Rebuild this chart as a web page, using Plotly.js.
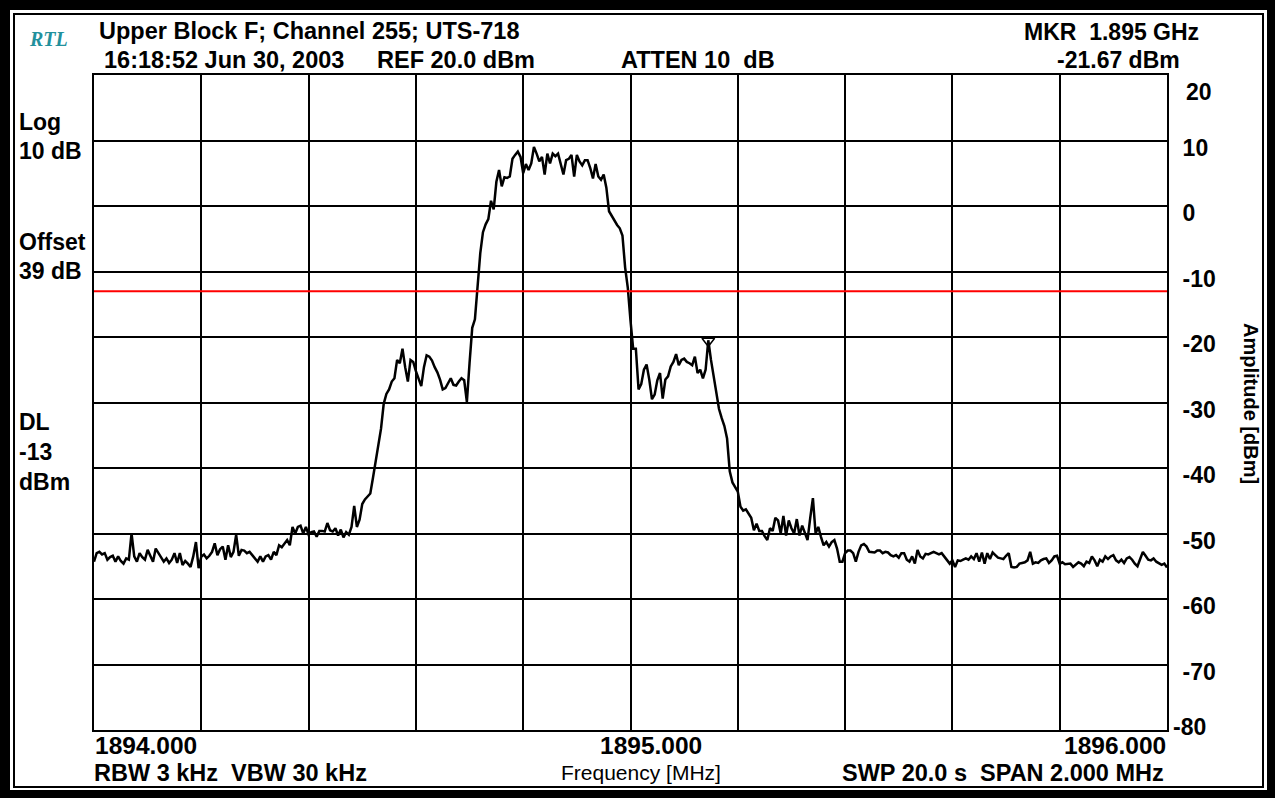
<!DOCTYPE html>
<html><head><meta charset="utf-8">
<script src="https://cdn.plot.ly/plotly-3.0.1.min.js"></script>
<style>html,body{margin:0;padding:0;background:#fff;} #chart{width:1275px;height:798px;}</style>
</head><body><div id="chart"></div>
<script>
// Sweep settings (instrument grid)
const FREQ_START = 1894.0;
const FREQ_STOP = 1896.0;
const SWEEP_POINTS = 401;

// Trace amplitude [dBm]
const amplitude = [
-54.3,-53.0,-52.8,-53.2,-53.0,-54.0,-53.6,-53.4,-54.3,-53.5,
-54.2,-54.6,-53.8,-54.0,-50.0,-53.5,-54.3,-53.0,-53.6,-54.0,
-52.5,-53.5,-54.3,-52.3,-53.0,-53.5,-54.3,-53.8,-54.5,-54.0,
-53.0,-54.5,-53.0,-54.8,-54.2,-54.6,-55.1,-53.5,-51.3,-55.3,
-53.5,-53.2,-53.8,-53.4,-52.8,-51.5,-53.3,-52.4,-52.0,-54.0,
-51.8,-53.6,-52.8,-50.2,-53.4,-52.5,-52.6,-53.0,-52.8,-53.3,
-53.8,-54.3,-53.5,-54.3,-53.5,-53.3,-54.0,-52.8,-53.3,-51.8,
-52.1,-51.5,-51.0,-51.8,-49.0,-50.0,-49.0,-48.8,-50.0,-49.0,
-50.2,-49.8,-49.7,-50.5,-49.6,-49.6,-49.7,-48.4,-49.5,-49.7,
-49.2,-50.3,-49.4,-50.6,-49.8,-50.2,-49.0,-45.8,-49.0,-47.9,
-45.5,-44.8,-44.4,-43.9,-41.5,-39.0,-36.8,-34.0,-30.2,-28.7,
-28.0,-26.8,-26.3,-23.5,-24.0,-21.8,-24.6,-26.8,-23.5,-23.8,
-25.2,-26.5,-27.5,-24.6,-22.8,-23.0,-23.6,-24.6,-25.4,-26.5,
-28.0,-27.8,-27.1,-26.3,-27.3,-27.4,-26.8,-26.3,-26.6,-29.9,
-24.0,-18.6,-17.3,-12.5,-7.2,-4.0,-2.8,-2.0,0.8,-0.5,
3.7,5.5,3.0,4.4,4.3,4.5,7.2,7.8,8.3,7.5,
5.0,6.4,5.5,6.5,9.0,8.0,6.8,7.5,4.8,8.0,
6.5,8.0,7.6,8.0,6.2,4.8,7.0,7.2,7.8,4.5,
7.8,6.8,6.2,7.0,7.0,5.8,4.2,6.4,4.5,4.0,
4.8,2.8,-0.8,-1.5,-2.3,-2.9,-3.4,-4.5,-9.4,-12.5,
-17.5,-21.8,-21.8,-28.0,-27.2,-25.0,-24.2,-26.5,-29.5,-28.8,
-26.6,-25.5,-29.4,-26.5,-26.0,-24.5,-23.8,-22.6,-24.3,-23.5,
-23.3,-23.8,-24.0,-24.3,-23.0,-25.5,-25.0,-26.3,-25.0,-20.5,
-23.5,-25.8,-28.5,-31.0,-32.4,-33.6,-35.5,-40.5,-42.2,-43.0,
-43.6,-45.9,-46.5,-46.3,-46.9,-47.6,-49.5,-48.5,-49.6,-49.6,
-50.4,-51.0,-49.2,-49.6,-47.6,-48.0,-50.0,-47.3,-50.3,-48.0,
-49.2,-50.0,-47.8,-50.3,-48.8,-50.0,-51.0,-47.6,-44.6,-50.0,
-49.0,-50.5,-51.8,-51.3,-52.0,-51.3,-51.0,-52.3,-54.3,-54.3,
-53.0,-52.6,-52.6,-53.0,-54.3,-52.8,-51.8,-51.6,-52.0,-52.8,
-52.8,-52.9,-52.6,-52.6,-53.0,-52.8,-52.9,-53.3,-53.5,-53.3,
-53.7,-53.0,-53.0,-54.0,-54.3,-53.5,-54.6,-52.5,-53.5,-53.8,
-53.1,-53.2,-53.0,-52.8,-53.0,-53.2,-53.0,-53.6,-54.1,-54.6,
-54.1,-55.1,-54.1,-54.2,-54.0,-53.8,-54.0,-53.5,-53.9,-53.0,
-54.3,-52.9,-54.6,-53.0,-53.9,-52.9,-53.3,-53.7,-53.8,-53.9,
-53.4,-53.0,-55.1,-55.2,-55.1,-54.6,-54.5,-54.4,-54.1,-52.8,
-54.6,-54.4,-54.5,-54.1,-53.9,-53.8,-54.5,-54.1,-53.5,-53.4,
-54.6,-54.4,-54.7,-54.7,-54.6,-55.1,-54.8,-54.4,-54.6,-55.0,
-54.3,-54.5,-53.5,-54.1,-55.0,-54.0,-54.3,-53.5,-53.9,-53.5,
-53.3,-54.1,-54.4,-54.0,-54.5,-53.8,-53.6,-54.0,-54.6,-55.0,
-53.9,-52.8,-53.4,-54.0,-54.1,-53.8,-54.3,-54.5,-54.8,-54.6,
-55.2
];

// Display line and marker
const DISPLAY_LINE = -13;
const MARKER_FREQ = 1895.145;
const MARKER_AMP = -20.6;

// Axis ranges / ticks
const X_RANGE = [1894, 1896];
const Y_RANGE = [-80, 20];
const yTickVals = [10, 0, -10, -20, -30, -40, -50, -60, -70];
const yTickText = ['10', '0', '-10', '-20', '-30', '-40', '-50', '-60', '-70'];
const xLabelVals = [1894, 1895, 1896];
const xLabelText = ['1894.000', '1895.000', '1896.000'];

// Header / footer texts
const headerTitle = 'Upper Block F; Channel 255; UTS-718';
const headerDate = '16:18:52 Jun 30, 2003';
const headerRef = 'REF 20.0 dBm';
const headerAtten = 'ATTEN 10\u00A0\u00A0dB';
const mkrFreqText = 'MKR\u00A0\u00A01.895 GHz';
const mkrAmpText = '-21.67 dBm';
const sideLabels = [['Log', 122], ['10 dB', 151], ['Offset', 242], ['39 dB', 271], ['DL', 422], ['-13', 452], ['dBm', 482]];
const footLeft = 'RBW 3 kHz\u00A0\u00A0VBW 30 kHz';
const footRight = 'SWP 20.0 s\u00A0\u00A0SPAN 2.000 MHz';
const xTitle = 'Frequency [MHz]';
const yTitle = 'Amplitude [dBm]';

const frequency = amplitude.map((_, i) => FREQ_START + i * (FREQ_STOP - FREQ_START) / (SWEEP_POINTS - 1));

const W = 1275, H = 798, ML = 94, MR = 108, MT = 75, MB = 68;
const PW = W - ML - MR, PH = H - MT - MB;
const px = v => (v - ML) / PW;
const py = v => (H - MB - v) / PH;

const FAM = 'Liberation Sans, Arial, Helvetica, sans-serif';
const bold = (size) => ({family: FAM, size: size, color: '#000', weight: 700});

const annotations = [];
function addText(text, x, y, anchor, font, extra) {
  annotations.push(Object.assign({
    text: text, xref: 'paper', yref: 'paper', x: px(x), y: py(y),
    xanchor: anchor, yanchor: 'middle', showarrow: false, font: font
  }, extra || {}));
}
addText('RTL', 27, 39, 'left', {family: 'Liberation Serif, Times New Roman, serif', size: 20, color: '#22909c', weight: 700, style: 'italic'});
addText(headerTitle, 97, 31, 'left', bold(23.5));
addText(headerDate, 102, 60, 'left', bold(23.5));
addText(headerRef, 375, 60, 'left', bold(23.5));
addText(headerAtten, 619, 60, 'left', bold(23.5));
addText(mkrFreqText, 1201, 32, 'right', bold(23));
addText(mkrAmpText, 1182, 60, 'right', bold(23));
sideLabels.forEach(s => addText(s[0], 17, s[1], 'left', bold(23)));
addText(footLeft, 92, 773, 'left', bold(23.5));
addText(footRight, 1166, 773, 'right', bold(23.5));
addText(xTitle, 641, 772, 'center', {family: FAM, size: 21, color: '#000'});
addText(yTitle, 1251, 403, 'center', bold(20), {textangle: 90});

// Frequency labels at the axis
[['left', -1], ['center', 20], ['right', 1]].forEach((a, k) => {
  annotations.push({text: xLabelText[k], xref: 'x', yref: 'paper', x: xLabelVals[k], y: py(745),
    xanchor: a[0], yanchor: 'middle', xshift: a[1], showarrow: false, font: bold(24.5)});
});
// Top / bottom amplitude labels
annotations.push({text: '20', xref: 'paper', yref: 'y', x: px(1184), y: Y_RANGE[1], yshift: -17,
  xanchor: 'left', yanchor: 'middle', showarrow: false, font: bold(23)});
annotations.push({text: '-80', xref: 'paper', yref: 'y', x: px(1171), y: Y_RANGE[0], yshift: 3,
  xanchor: 'left', yanchor: 'middle', showarrow: false, font: bold(23)});

const shapes = [
  // Display line
  {type: 'line', xref: 'paper', yref: 'y', x0: 0, x1: 1, y0: DISPLAY_LINE, y1: DISPLAY_LINE,
   line: {color: '#ff0000', width: 2}},
  // Outer frame bands
  {type: 'rect', xref: 'paper', yref: 'paper', x0: px(-5), x1: px(10), y0: py(-5), y1: py(H + 5), fillcolor: '#000', line: {width: 0}},
  {type: 'rect', xref: 'paper', yref: 'paper', x0: px(1267), x1: px(W + 5), y0: py(-5), y1: py(H + 5), fillcolor: '#000', line: {width: 0}},
  {type: 'rect', xref: 'paper', yref: 'paper', x0: px(-5), x1: px(W + 5), y0: py(-5), y1: py(10), fillcolor: '#000', line: {width: 0}},
  {type: 'rect', xref: 'paper', yref: 'paper', x0: px(-5), x1: px(W + 5), y0: py(790), y1: py(H + 5), fillcolor: '#000', line: {width: 0}},
  {type: 'rect', xref: 'paper', yref: 'paper', x0: px(14), x1: px(1263), y0: py(14), y1: py(787), line: {color: '#000', width: 2}}
];

const traces = [
  {x: frequency, y: amplitude, type: 'scatter', mode: 'lines', line: {color: '#000', width: 2.5}, hoverinfo: 'x+y'},
  {x: [MARKER_FREQ], y: [MARKER_AMP], type: 'scatter', mode: 'markers',
   marker: {symbol: 'triangle-down-open', size: 11, color: '#000', line: {width: 1.5, color: '#000'}}}
];

const layout = {
  width: W, height: H, showlegend: false,
  margin: {l: ML, r: MR, t: MT, b: MB, pad: 0},
  paper_bgcolor: '#fff', plot_bgcolor: '#fff',
  xaxis: {range: X_RANGE, tick0: 1894, dtick: 0.2, showgrid: true, gridcolor: '#000', gridwidth: 2,
    showline: true, mirror: true, linecolor: '#000', linewidth: 2, showticklabels: false, ticks: '',
    zeroline: false, fixedrange: true},
  yaxis: {range: Y_RANGE, side: 'right', tickmode: 'array', tickvals: yTickVals, ticktext: yTickText,
    showgrid: true, gridcolor: '#000', gridwidth: 2, showline: true, mirror: true, linecolor: '#000', linewidth: 2,
    ticks: '', zeroline: false, fixedrange: true, tickfont: bold(23), ticklabelstandoff: 9, ticklabelshift: 7},
  annotations: annotations,
  shapes: shapes
};

Plotly.newPlot('chart', traces, layout, {displayModeBar: false, staticPlot: true});
</script></body></html>
